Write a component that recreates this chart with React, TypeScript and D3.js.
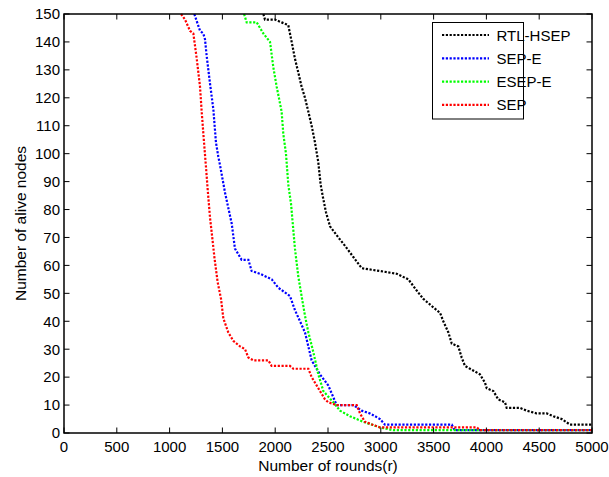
import React from "react";
import * as d3 from "d3";

const seriesNames = ["RTL-HSEP", "SEP-E", "ESEP-E", "SEP"];
const seriesColors = ["#000000", "#0000ff", "#00ff00", "#ff0000"];

const rtlHsep: [number, number][] = [
  [1888,150],[1903,148],[1998,148],[2061,147],[2124,146],[2140,143],[2156,140],[2187,134],[2219,129],[2250,124],
  [2282,120],[2314,115],[2345,110],[2377,104],[2408,97],[2430,89],[2449,85],[2481,79],[2519,74],[2598,70],
  [2661,67],[2740,63],[2819,59],[2992,58],[3150,57],[3261,55],[3340,51],[3403,48],[3497,45],[3561,43],
  [3592,40],[3640,36],[3672,32],[3734,31],[3766,27],[3797,24],[3845,23],[3939,21],[3987,18],[4003,16],
  [4066,15],[4113,12],[4176,11],[4192,9],[4318,9],[4381,8],[4476,7],[4571,7],[4634,6],[4713,5],
  [4792,3],[5000,3],
];
const sepE: [number, number][] = [
  [1234,150],[1288,144],[1319,143],[1335,141],[1351,135],[1383,125],[1414,116],[1439,104],[1461,99],[1477,96],
  [1525,86],[1588,75],[1619,66],[1682,62],[1746,62],[1777,58],[1856,57],[1967,55],[2030,52],[2140,49],
  [2187,44],[2235,40],[2282,36],[2314,31],[2345,26],[2424,21],[2503,17],[2582,10],[2740,10],[2819,8],
  [2898,7],[2992,5],[3040,3],[3672,3],[3700,1],[5000,1],
];
const esepE: [number, number][] = [
  [1705,150],[1730,147],[1825,147],[1888,143],[1951,140],[1982,131],[2014,124],[2061,115],[2077,107],[2102,100],
  [2124,89],[2150,82],[2187,66],[2219,56],[2250,49],[2282,42],[2314,36],[2361,29],[2408,21],[2456,15],
  [2550,11],[2614,8],[2708,6],[2835,4],[2992,2],[3118,1],[5000,1],
];
const sep: [number, number][] = [
  [1109,150],[1146,148],[1193,144],[1225,143],[1257,134],[1288,124],[1304,115],[1326,104],[1345,95],[1361,87],
  [1383,77],[1398,72],[1424,63],[1455,54],[1487,48],[1509,41],[1556,36],[1603,33],[1667,31],[1714,30],
  [1746,27],[1793,26],[1935,26],[1966,24],[2140,24],[2172,23],[2314,23],[2345,20],[2377,18],[2424,15],
  [2472,12],[2503,11],[2582,10],[2772,10],[2803,7],[2850,4],[2992,2],[3908,2],[3940,1],[5000,1],
];
const allSeries = [rtlHsep, sepE, esepE, sep];

const xTicks = d3.range(0, 5001, 500);
const yTicks = d3.range(0, 151, 10);

const W = 609, H = 477;
const L = 64, R = 592, T = 14, B = 433;
const FONT = "'Liberation Sans', Arial, Helvetica, sans-serif";

export default function App() {
  const x = d3.scaleLinear().domain([0, 5000]).range([L, R]);
  const y = d3.scaleLinear().domain([0, 150]).range([B, T]);
  const line = d3.line<[number, number]>().x(d => x(d[0])).y(d => y(d[1]));
  const tl = 5.5;
  const legY = (i: number) => 35 + i * 23.3;
  return (
    <svg width={W} height={H} style={{ position: "absolute", left: 0, top: 0, background: "#fff" }}
      fontFamily={FONT}>
      <rect x={0} y={0} width={W} height={H} fill="#fff" />
      <defs>
        <clipPath id="plotclip">
          <rect x={L} y={T - 1} width={R - L} height={B - T + 2} />
        </clipPath>
      </defs>
      <g clipPath="url(#plotclip)">
        {allSeries.map((s, i) => (
          <path key={i} d={line(s) || ""} fill="none" stroke={seriesColors[i]} strokeWidth={2.2}
            strokeDasharray="2.2,1.6" />
        ))}
      </g>
      <rect x={L} y={T} width={R - L} height={B - T} fill="none" stroke="#000" strokeWidth={1.5} />
      {xTicks.map(t => (
        <g key={"x" + t}>
          <line x1={x(t)} x2={x(t)} y1={B} y2={B - tl} stroke="#000" strokeWidth={1} />
          <line x1={x(t)} x2={x(t)} y1={T} y2={T + tl} stroke="#000" strokeWidth={1} />
          <text x={x(t)} y={451.5} fontSize={15} textAnchor="middle" fill="#000">{t}</text>
        </g>
      ))}
      {yTicks.map(t => (
        <g key={"y" + t}>
          <line x1={L} x2={L + tl} y1={y(t)} y2={y(t)} stroke="#000" strokeWidth={1} />
          <line x1={R} x2={R - tl} y1={y(t)} y2={y(t)} stroke="#000" strokeWidth={1} />
          <text x={60} y={y(t) + 5.3} fontSize={15} textAnchor="end" fill="#000">{t}</text>
        </g>
      ))}
      <text x={(L + R) / 2} y={471} fontSize={15.5} textAnchor="middle" fill="#000">Number of rounds(r)</text>
      <text transform={`translate(26,${(T + B) / 2}) rotate(-90)`} fontSize={15.5} textAnchor="middle" fill="#000">
        Number of alive nodes
      </text>
      <rect x={432.5} y={22.5} width={91} height={96.5} fill="#fff" stroke="#000" strokeWidth={1} />
      {seriesNames.map((n, i) => (
        <g key={n}>
          <line x1={442} x2={489} y1={legY(i)} y2={legY(i)} stroke={seriesColors[i]} strokeWidth={2.2}
            strokeDasharray="2.2,1.6" />
          <text x={496.5} y={legY(i) + 5.5} fontSize={15} fill="#000">{n}</text>
        </g>
      ))}
    </svg>
  );
}
